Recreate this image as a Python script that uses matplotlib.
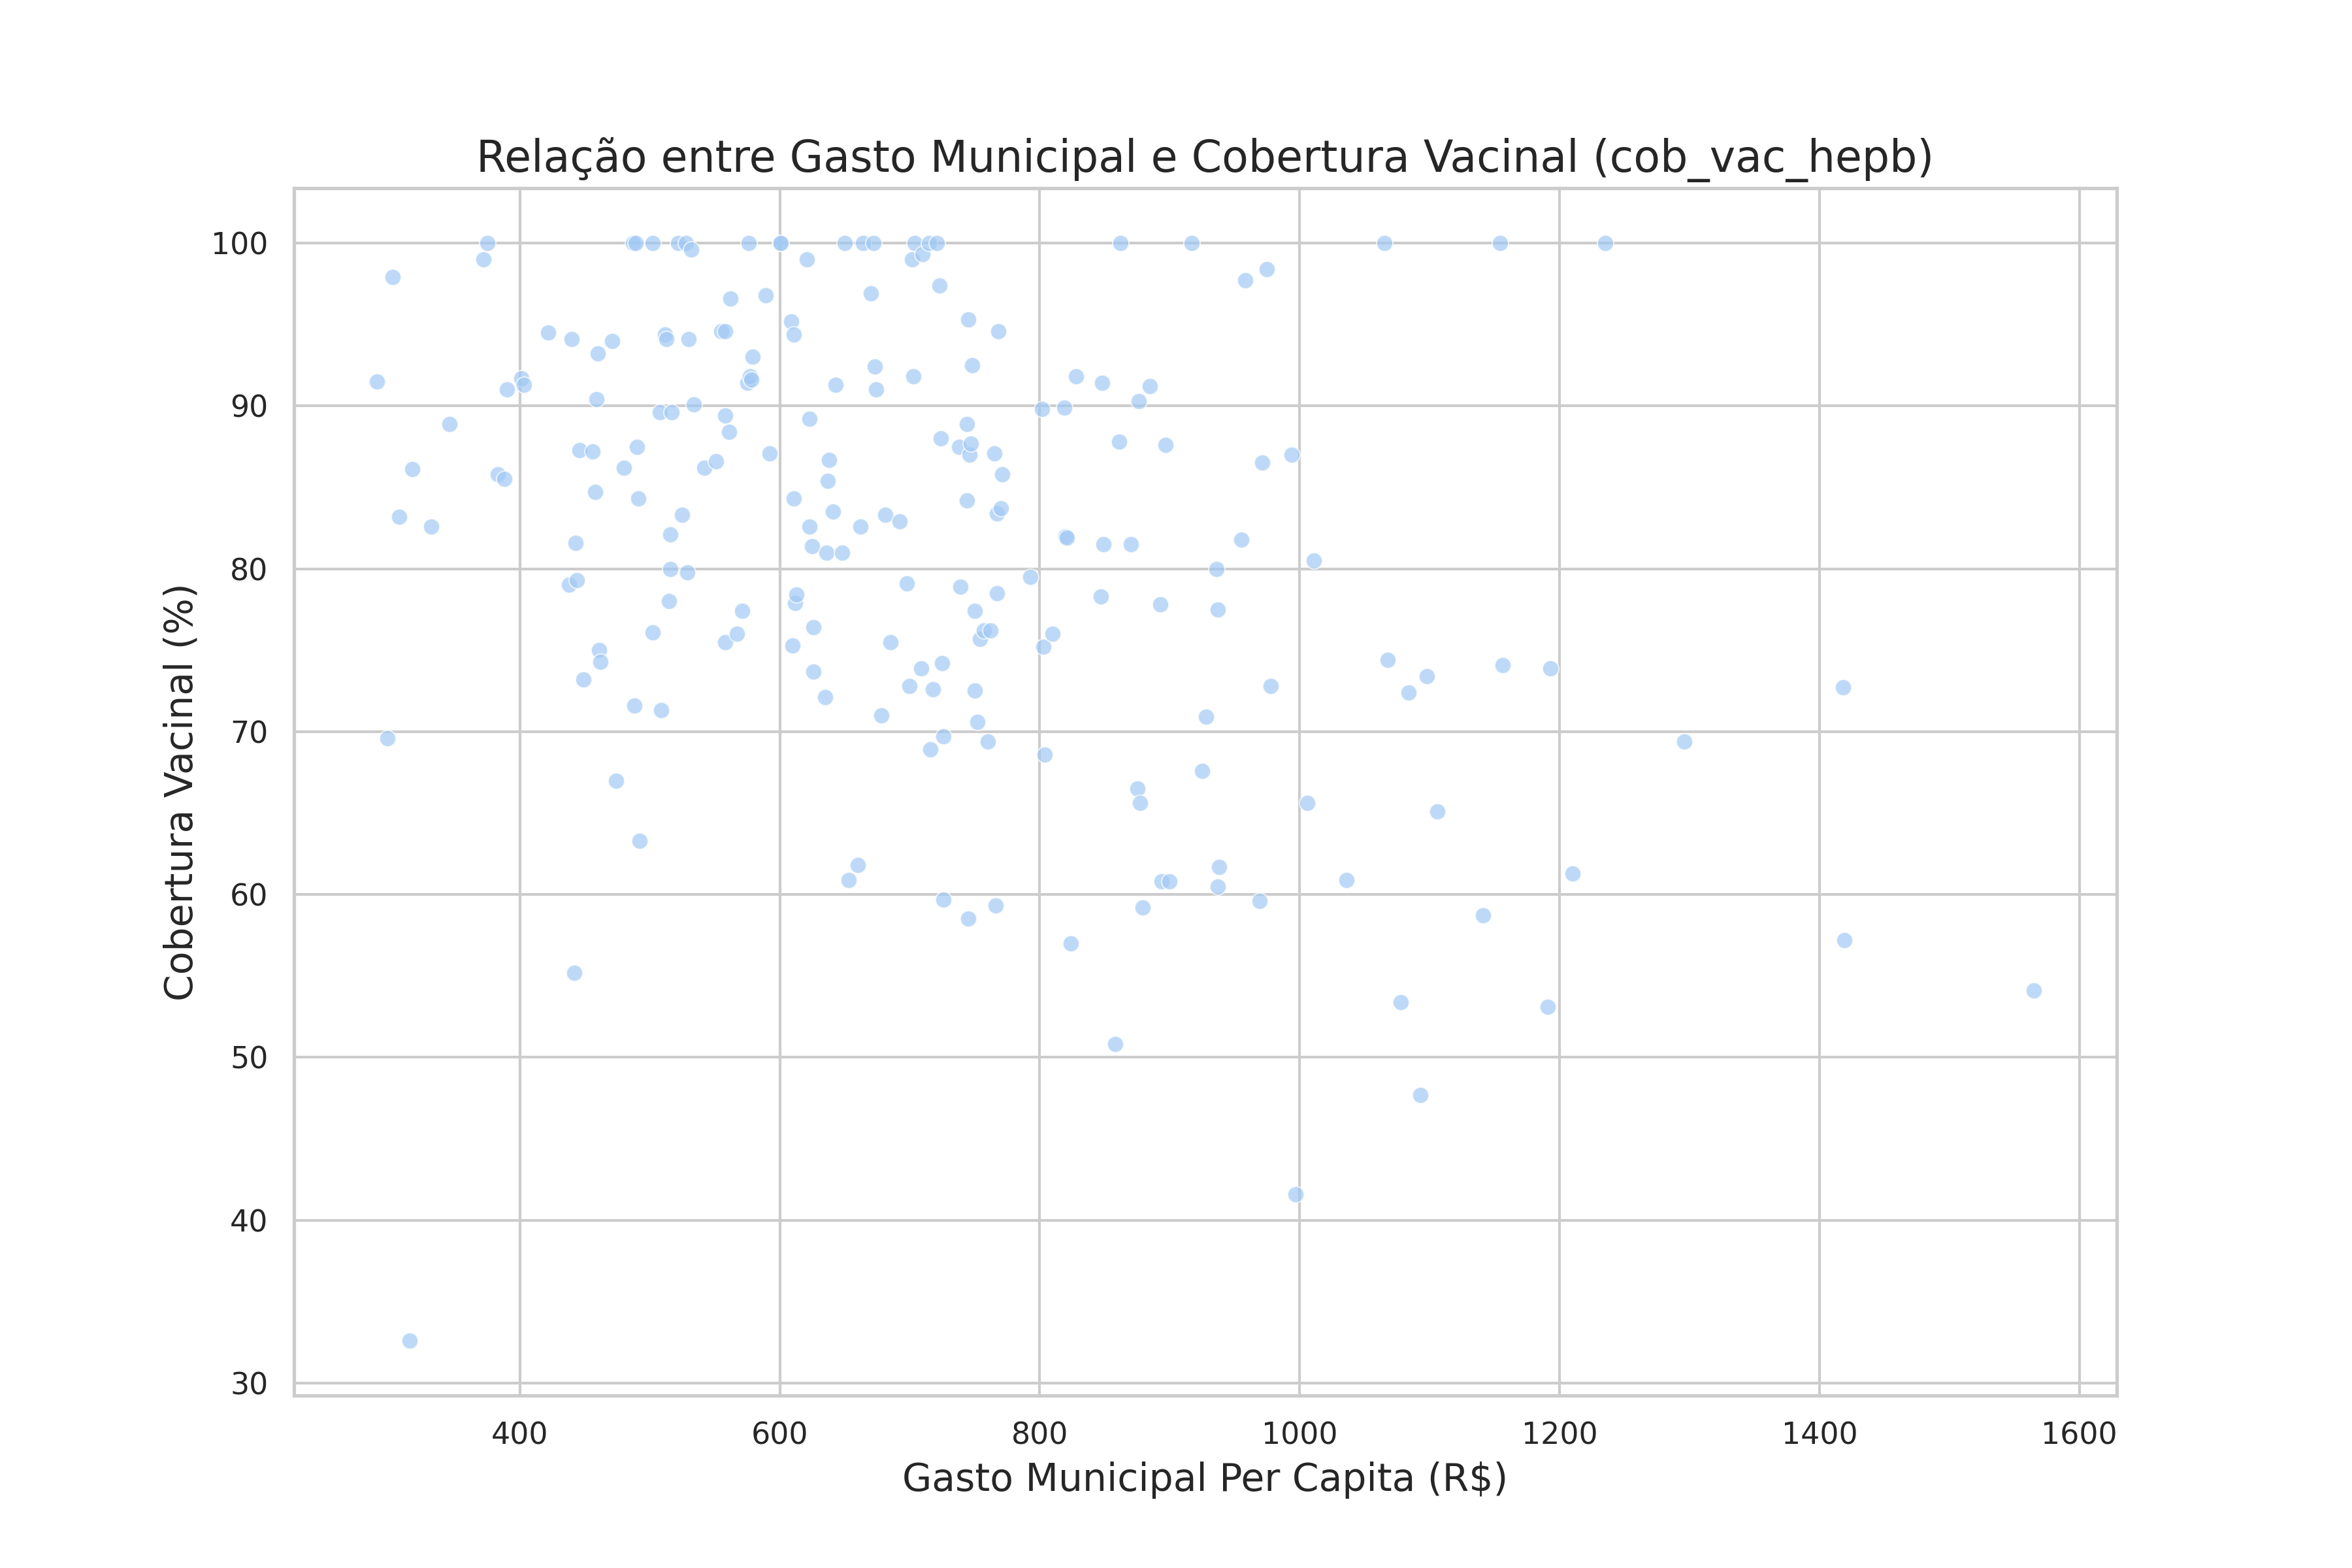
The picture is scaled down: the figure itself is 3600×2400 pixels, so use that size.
import numpy as np
import pandas as pd
import matplotlib
matplotlib.use("Agg")
import matplotlib.pyplot as plt
import seaborn as sns

# gasto municipal per capita (R$) e cobertura vacinal hepatite B (%)
gasto = [
    290, 298, 302, 307, 315, 317, 332, 346, 372, 375,
    383, 388, 390, 401, 403, 422, 438, 440, 442, 443,
    444, 446, 449, 456, 458, 459, 460, 461, 462, 471,
    474, 480, 487, 488, 489, 490, 491, 492, 502, 502,
    508, 509, 512, 513, 515, 516, 516, 517, 522, 525,
    528, 529, 530, 532, 534, 542, 551, 555, 558, 558,
    558, 561, 562, 567, 571, 575, 576, 577, 578, 579,
    589, 592, 600, 601, 609, 610, 611, 611, 612, 613,
    621, 623, 623, 625, 626, 626, 635, 636, 637, 638,
    641, 643, 648, 650, 653, 660, 662, 664, 670, 672,
    673, 674, 678, 681, 685, 692, 698, 700, 702, 703,
    704, 709, 710, 715, 716, 718, 721, 723, 724, 725,
    726, 726, 738, 739, 744, 744, 745, 745, 746, 747,
    748, 750, 750, 752, 754, 757, 760, 762, 765, 766,
    767, 767, 768, 770, 771, 793, 802, 803, 804, 810,
    819, 820, 821, 824, 828, 847, 848, 849, 858, 861,
    862, 870, 875, 876, 877, 879, 885, 893, 894, 897,
    900, 917, 925, 928, 936, 937, 937, 938, 955, 958,
    969, 971, 975, 978, 994, 997, 1006, 1011, 1036, 1065,
    1068, 1078, 1084, 1093, 1098, 1106, 1141, 1154, 1156, 1191,
    1193, 1210, 1235, 1296, 1418, 1419, 1565,
]
cobertura = [
    91.5, 69.6, 97.9, 83.2, 32.6, 86.1, 82.6, 88.9, 99.0, 100,
    85.8, 85.5, 91.0, 91.7, 91.3, 94.5, 79.0, 94.1, 55.2, 81.6,
    79.3, 87.3, 73.2, 87.2, 84.7, 90.4, 93.2, 75.0, 74.3, 94.0,
    67.0, 86.2, 100, 71.6, 100, 87.5, 84.3, 63.3, 100, 76.1,
    89.6, 71.3, 94.4, 94.1, 78.0, 80.0, 82.1, 89.6, 100, 83.3,
    100, 79.8, 94.1, 99.6, 90.1, 86.2, 86.6, 94.6, 94.6, 89.4,
    75.5, 88.4, 96.6, 76.0, 77.4, 91.4, 100, 91.8, 91.6, 93.0,
    96.8, 87.1, 100, 100, 95.2, 75.3, 84.3, 94.4, 77.9, 78.4,
    99.0, 89.2, 82.6, 81.4, 73.7, 76.4, 72.1, 81.0, 85.4, 86.7,
    83.5, 91.3, 81.0, 100, 60.9, 61.8, 82.6, 100, 96.9, 100,
    92.4, 91.0, 71.0, 83.3, 75.5, 82.9, 79.1, 72.8, 99.0, 91.8,
    100, 73.9, 99.3, 100, 68.9, 72.6, 100, 97.4, 88.0, 74.2,
    69.7, 59.7, 87.5, 78.9, 88.9, 84.2, 58.5, 95.3, 87.0, 87.7,
    92.5, 77.4, 72.5, 70.6, 75.7, 76.2, 69.4, 76.2, 87.1, 59.3,
    78.5, 83.4, 94.6, 83.7, 85.8, 79.5, 89.8, 75.2, 68.6, 76.0,
    89.9, 82.0, 81.9, 57.0, 91.8, 78.3, 91.4, 81.5, 50.8, 87.8,
    100, 81.5, 66.5, 90.3, 65.6, 59.2, 91.2, 77.8, 60.8, 87.6,
    60.8, 100, 67.6, 70.9, 80.0, 77.5, 60.5, 61.7, 81.8, 97.7,
    59.6, 86.5, 98.4, 72.8, 87.0, 41.6, 65.6, 80.5, 60.9, 100,
    74.4, 53.4, 72.4, 47.7, 73.4, 65.1, 58.7, 100, 74.1, 53.1,
    73.9, 61.3, 100, 69.4, 72.7, 57.2, 54.1,
]

df = pd.DataFrame({"gasto_pc": gasto, "cob_vac_hepb": cobertura})

sns.set_theme(style="whitegrid")
fig, ax = plt.subplots(figsize=(12, 8))
sns.scatterplot(data=df, x="gasto_pc", y="cob_vac_hepb", ax=ax,
                color=sns.color_palette("pastel")[0], alpha=0.7)
ax.set_title("Relação entre Gasto Municipal e Cobertura Vacinal (cob_vac_hepb)", fontsize=16)
ax.set_xlabel("Gasto Municipal Per Capita (R$)", fontsize=14)
ax.set_ylabel("Cobertura Vacinal (%)", fontsize=14)
plt.savefig("out.png", dpi=300)
